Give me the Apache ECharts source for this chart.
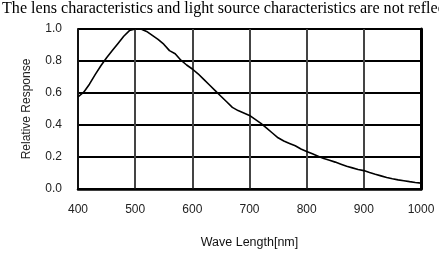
<!DOCTYPE html>
<html><head><meta charset="utf-8">
<script src="https://cdn.jsdelivr.net/npm/echarts@6/dist/echarts.min.js"></script>
<style>html,body{margin:0;padding:0;background:#fff}#c{width:439px;height:254px}</style>
</head><body><div id="c"></div>
<script>
const titleText = "The lens characteristics and light source characteristics are not reflected.";
const xName = "Wave Length[nm]";
const yName = "Relative Response";
const wavelengths = [400,410,420,430,440,450,460,470,480,490,500,510,520,530,540,550,560,570,580,590,600,610,620,630,640,650,660,670,680,690,700,710,720,730,740,750,760,770,780,790,800,810,820,830,840,850,860,870,880,890,900,910,920,930,940,950,960,970,980,990,1000];
const response = [0.575,0.605,0.655,0.715,0.77,0.82,0.865,0.91,0.955,0.99,1.0,1.0,0.985,0.96,0.935,0.905,0.865,0.845,0.805,0.775,0.75,0.72,0.685,0.65,0.615,0.58,0.545,0.51,0.49,0.475,0.46,0.435,0.41,0.38,0.35,0.32,0.3,0.285,0.27,0.25,0.235,0.22,0.205,0.19,0.18,0.168,0.155,0.142,0.132,0.122,0.115,0.103,0.092,0.082,0.072,0.064,0.057,0.052,0.046,0.041,0.037];

const chart = echarts.init(document.getElementById('c'), null, {renderer:'canvas'});
chart.setOption({
  animation:false,
  title:{text:titleText,left:2,top:1,padding:0,textStyle:{fontFamily:'Liberation Serif',fontSize:16.1,fontWeight:'normal',color:'#000'}},
  grid:{left:78,right:18,top:29,bottom:62,show:true,borderColor:'#000',borderWidth:1.5},
  xAxis:[{type:'value',min:400,max:1000,interval:100,
    name:xName,nameLocation:'middle',nameGap:47,
    nameTextStyle:{fontFamily:'Liberation Sans',fontSize:12.5,color:'#111'},
    axisLine:{show:true,lineStyle:{color:'#000',width:2.5}},axisTick:{show:false},
    axisLabel:{margin:15,fontFamily:'Liberation Sans',fontSize:12,color:'#222',formatter:v=>String(v)},
    splitLine:{show:true,lineStyle:{color:'#444',width:2}}}],
  yAxis:[{type:'value',min:0,max:1,interval:0.2,
    name:yName,nameLocation:'middle',nameGap:45,
    nameTextStyle:{fontFamily:'Liberation Sans',fontSize:12,color:'#222'},
    axisLine:{show:true,lineStyle:{color:'#000',width:1.5}},axisTick:{show:false},
    axisLabel:{margin:16,fontFamily:'Liberation Sans',fontSize:12,color:'#222',formatter:v=>v.toFixed(1)},
    splitLine:{show:true,lineStyle:{color:'#000',width:2}}},
   {type:'value',min:0,max:1,interval:0.2,position:'right',
    axisLine:{show:true,lineStyle:{color:'#000',width:3}},axisTick:{show:false},axisLabel:{show:false},splitLine:{show:false}}],
  series:[{type:'line',data:wavelengths.map((w,i)=>[w,response[i]]),showSymbol:false,
    lineStyle:{color:'#000',width:1.6},z:5}]
});
</script></body></html>
